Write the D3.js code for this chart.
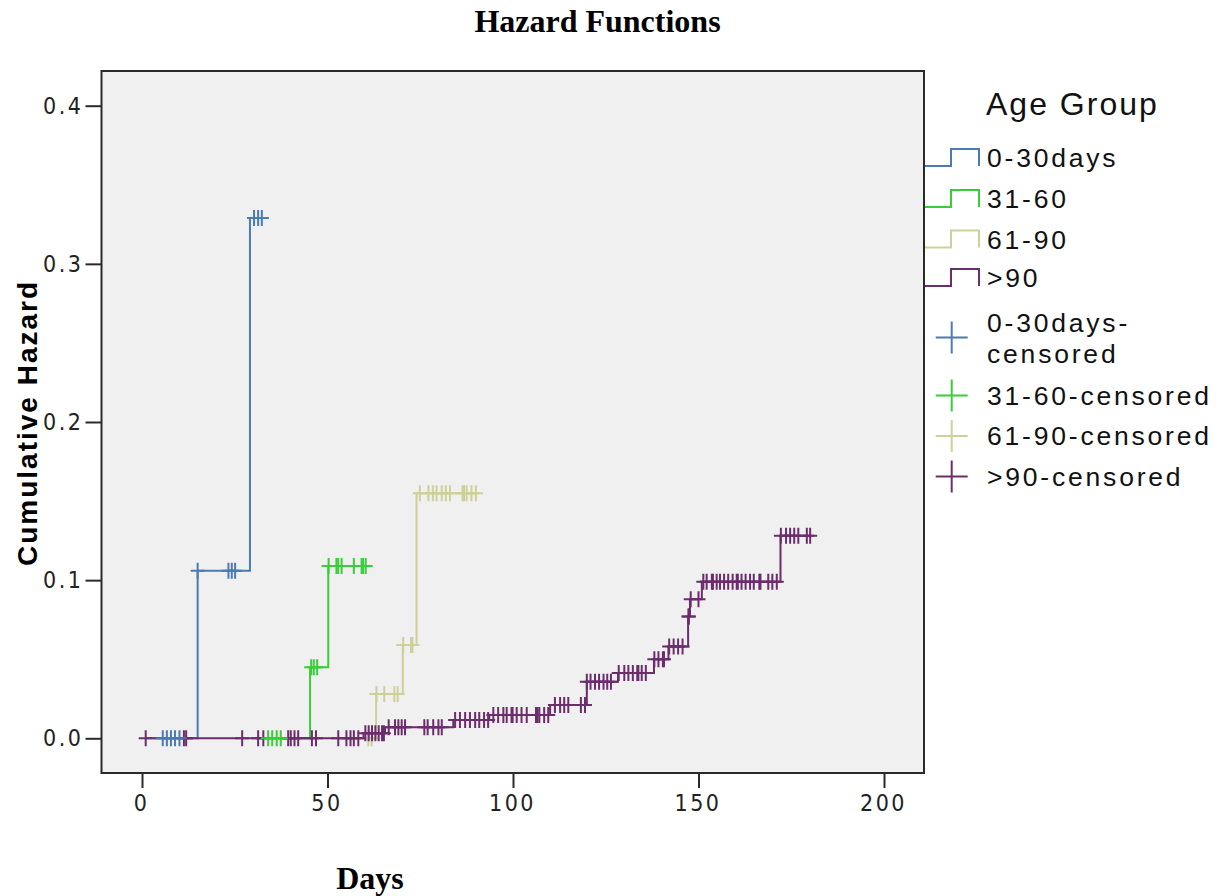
<!DOCTYPE html>
<html>
<head>
<meta charset="utf-8">
<script src="https://cdn.jsdelivr.net/npm/d3@7/dist/d3.min.js"></script>
<style>
  html, body { margin: 0; padding: 0; background: #ffffff; }
  svg { display: block; }
</style>
</head>
<body>
<svg id="chart" width="1228" height="896"></svg>
<script>
// ---------------- DATA ----------------
const groupNames = ["0-30days", "31-60", "61-90", ">90"];
const censoredNames = ["0-30days-censored", "31-60-censored", "61-90-censored", ">90-censored"];
const groupColors = ["#4a7bb2", "#3acd3a", "#cfcf99", "#6b2d6b"];

const xTicks = [0, 50, 100, 150, 200];
const yTicks = [0.0, 0.1, 0.2, 0.3, 0.4];

// 0-30days
const g1Start = 3;
const g1EventDays = [15.0, 29.1];
const g1EventHazard = [0.106, 0.329];
const g1Censored = [5.6, 6.7, 7.8, 8.9, 10.1, 15.0, 23.3, 24.2, 25.1, 30.2, 31.3, 32.3];

// 31-60
const g2Start = 34.0;
const g2EventDays = [45.3, 50.2];
const g2EventHazard = [0.045, 0.109];
const g2Censored = [34.0, 35.1, 36.3, 37.4, 45.6, 46.3, 47.2, 50.3, 52.4, 52.9, 53.8, 57.1, 59.2, 59.6, 60.3];

// 61-90
const g3Start = 61.0;
const g3EventDays = [63.1, 70.3, 74.0];
const g3EventHazard = [0.028, 0.059, 0.155];
const g3Censored = [61.0, 61.9, 63.2, 65.3, 68.0, 68.9, 70.4, 72.5, 72.9,
  74.9, 77.2, 78.4, 79.4, 80.8, 81.9, 83.0, 86.4, 86.8, 87.5, 88.8, 90.0];

// >90
const g4Start = 1.0;
const g4EventDays = [59.7, 65.5, 83.9, 93.6, 110.0, 119.9, 128.3, 138.0, 141.9, 147.2, 147.7, 150.9, 172.1];
const g4EventHazard = [0.0032, 0.0070, 0.0116, 0.0147, 0.0210, 0.0358, 0.0413, 0.0500, 0.0580, 0.0770, 0.0880, 0.0990, 0.1280];
const g4Censored = [
  1.0, 11.3, 11.9, 27.0, 31.3, 32.7, 39.4, 40.1, 41.1, 42.1, 45.8, 46.9, 52.9, 55.1, 56.2, 57.1, 58.3,
  60.2, 61.1, 62.0, 62.9, 63.8, 64.7, 65.2,
  66.5, 68.2, 69.1, 70.0, 70.9, 76.1, 77.0, 78.5, 79.9, 80.8,
  84.4, 85.7, 87.1, 88.4, 89.8, 90.9, 92.2, 93.3,
  94.7, 96.0, 97.4, 98.3, 99.6, 99.9, 101.0, 102.3, 103.7, 106.2, 106.6, 107.1, 108.4, 109.5,
  111.3, 112.7, 113.8, 114.9, 118.3, 119.4,
  119.9, 120.9, 122.1, 123.2, 124.4, 125.4, 126.4,
  128.5, 130.0, 131.1, 132.3, 133.5, 133.8, 134.7, 135.8,
  138.1, 139.2, 140.4, 140.7,
  142.1, 143.3, 144.5, 145.7,
  147.3, 147.4,
  147.9, 150.0,
  151.3, 152.2, 153.6, 153.9, 154.9, 155.8, 156.9, 158.0, 159.2, 160.3, 160.6, 161.6, 162.7, 163.9, 164.9, 166.4, 166.7, 168.8, 169.9, 171.1,
  172.2, 173.6, 174.7, 175.8, 176.9, 179.2, 180.1
];

// ---------------- BUILD ----------------
const groups = [
  {start: g1Start, ev: g1EventDays, hz: g1EventHazard, cens: g1Censored, color: groupColors[0]},
  {start: g2Start, ev: g2EventDays, hz: g2EventHazard, cens: g2Censored, color: groupColors[1]},
  {start: g3Start, ev: g3EventDays, hz: g3EventHazard, cens: g3Censored, color: groupColors[2]},
  {start: g4Start, ev: g4EventDays, hz: g4EventHazard, cens: g4Censored, color: groupColors[3]}
];

const svg = d3.select("#chart");
const frame = {left: 101.5, top: 71, right: 924, bottom: 773};

const x = d3.scaleLinear().domain([0, 200]).range([142, 884]);
const y = d3.scaleLinear().domain([0, 0.4]).range([738.3, 105.7]);

const tickFont = "'Liberation Sans Narrow', 'DejaVu Sans Condensed', 'Liberation Sans', Arial, sans-serif";

// Plot background + frame
svg.append("rect")
  .attr("x", frame.left).attr("y", frame.top)
  .attr("width", frame.right - frame.left).attr("height", frame.bottom - frame.top)
  .attr("fill", "#f0f0f0").attr("stroke", "#2a2a2a").attr("stroke-width", 2);

// Axes
const yAxis = svg.append("g").attr("transform", `translate(${frame.left},0)`)
  .call(d3.axisLeft(y).tickValues(yTicks).tickFormat(d3.format(".1f")).tickSize(16).tickPadding(2));
const xAxis = svg.append("g").attr("transform", `translate(0,${frame.bottom})`)
  .call(d3.axisBottom(x).tickValues(xTicks).tickFormat(d3.format("d")).tickSize(15).tickPadding(7));
[yAxis, xAxis].forEach(ax => {
  ax.select(".domain").remove();
  ax.selectAll(".tick line").attr("stroke", "#2a2a2a").attr("stroke-width", 2);
  ax.selectAll(".tick text")
    .attr("fill", "#222")
    .style("font-family", tickFont)
    .style("font-stretch", "condensed")
    .style("font-size", "23px")
    .style("letter-spacing", "2.5px");
});
xAxis.selectAll(".tick text").attr("dx", "-1px");

function stepValue(g, t) {
  let v = 0;
  for (let i = 0; i < g.ev.length; i++) if (g.ev[i] <= t + 1e-9) v = g.hz[i];
  return v;
}
function stepPath(g) {
  const end = d3.max(g.cens);
  let p = `M${x(g.start)},${y(0)}`;
  for (let i = 0; i < g.ev.length; i++) {
    p += `H${x(g.ev[i])}V${y(g.hz[i])}`;
  }
  p += `H${x(end)}`;
  return p;
}
function drawLine(g) {
  svg.append("path").attr("d", stepPath(g))
    .attr("fill", "none").attr("stroke", g.color).attr("stroke-width", 2);
}
function drawMarks(g) {
  svg.append("g").selectAll("path").data(g.cens).join("path")
    .attr("d", t => {
      const cx = x(t), cy = y(stepValue(g, t));
      return `M${cx - 7},${cy}H${cx + 7}M${cx},${cy - 8}V${cy + 8}`;
    })
    .attr("fill", "none").attr("stroke", g.color).attr("stroke-width", 2);
}

drawLine(groups[2]);
drawMarks(groups[2]);
drawLine(groups[1]);
drawLine(groups[0]);
drawLine(groups[3]);
drawMarks(groups[3]);
drawMarks(groups[0]);
drawMarks(groups[1]);

// Titles
svg.append("text").attr("x", 597.5).attr("y", 32).attr("text-anchor", "middle")
  .style("font-family", "'Liberation Serif', 'Times New Roman', serif")
  .style("font-weight", "bold").style("font-size", "32px").attr("fill", "#000")
  .text("Hazard Functions");
svg.append("text").attr("x", 370).attr("y", 889).attr("text-anchor", "middle")
  .style("font-family", "'Liberation Serif', 'Times New Roman', serif")
  .style("font-weight", "bold").style("font-size", "32px").attr("fill", "#000")
  .text("Days");
svg.append("text").attr("transform", "translate(37,423) rotate(-90)").attr("text-anchor", "middle")
  .style("font-family", "'Liberation Sans', Arial, sans-serif")
  .style("font-weight", "bold").style("font-size", "28px").style("letter-spacing", "2px").attr("fill", "#000")
  .text("Cumulative Hazard");

// Legend
const legendFont = "'Liberation Sans', Arial, sans-serif";
svg.append("text").attr("x", 986).attr("y", 115)
  .style("font-family", legendFont).style("font-size", "32px").style("letter-spacing", "2px").attr("fill", "#111")
  .text("Age Group");

const lineBaselines = [167, 208, 248.5, 287];
groupNames.forEach((name, i) => {
  const b = lineBaselines[i];
  const low = b - 1, high = b - 18;
  svg.append("path")
    .attr("d", `M925,${low}H951V${high}H979V${low}`)
    .attr("fill", "none").attr("stroke", groupColors[i]).attr("stroke-width", 2);
  svg.append("text").attr("x", 987).attr("y", b)
    .style("font-family", legendFont).style("font-size", "26.5px").style("letter-spacing", "2.8px").attr("fill", "#111")
    .text(name);
});

const crossCenters = [337.5, 395.5, 436, 476.5];
censoredNames.forEach((name, i) => {
  const cy = crossCenters[i], cx = 951.7;
  svg.append("path")
    .attr("d", `M${cx - 16},${cy}H${cx + 16}M${cx},${cy - 16}V${cy + 16}`)
    .attr("fill", "none").attr("stroke", groupColors[i]).attr("stroke-width", 2);
  const t = svg.append("text").attr("x", 987)
    .style("font-family", legendFont).style("font-size", "26.5px").style("letter-spacing", "2.8px").attr("fill", "#111");
  if (i === 0) {
    t.append("tspan").attr("x", 987).attr("y", 331.5).text("0-30days-");
    t.append("tspan").attr("x", 987).attr("y", 362.5).text("censored");
  } else {
    t.attr("y", cy + 9).text(name);
  }
});
</script>
</body>
</html>
